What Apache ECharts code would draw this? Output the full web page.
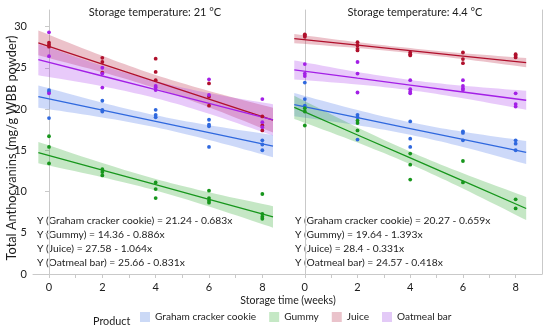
<!DOCTYPE html>
<html><head><meta charset="utf-8">
<script src="https://cdn.jsdelivr.net/npm/echarts@6/dist/echarts.min.js"></script>
<style>html,body{margin:0;padding:0;background:#fff}#c{width:550px;height:332px}</style>
</head><body><div id="c"></div>
<script>
// ---------- data ----------
const PRODUCTS = ['Graham cracker cookie', 'Gummy', 'Juice', 'Oatmeal bar'];
const PANEL_TITLES = ['Storage temperature: 21 °C', 'Storage temperature: 4.4 °C'];
const X_TICK_LABELS = [0, 2, 4, 6, 8];
const X_TICK_MARKS = [0, 1, 2, 3, 4, 5, 6, 7, 8];
const Y_TICK_LABELS = [0, 5, 10, 15, 20, 25, 30];
const X_FIT = [-0.4, 2, 4, 6, 8.4];

// 21 °C observations [week, value]
const P21_GRAHAM = [[0,22.3],[0,22.1],[0,18.9],[2,21.0],[2,19.9],[2,19.7],[4,19.9],[4,19.3],[4,19.0],[6,18.7],[6,18.1],[6,17.9],[6,15.4],[8,16.2],[8,15.7],[8,15.0]];
const P21_GUMMY  = [[0,16.7],[0,15.4],[0,13.4],[2,12.7],[2,12.35],[2,11.95],[4,11.1],[4,10.3],[4,9.2],[6,10.1],[6,9.2],[6,8.9],[6,8.65],[8,9.7],[8,7.3],[8,6.95],[8,6.7]];
const P21_JUICE  = [[0,28.05],[0,27.8],[0,27.55],[2,26.2],[2,25.7],[2,24.4],[4,26.1],[4,24.5],[4,23.5],[6,23.1],[6,21.5],[6,20.4],[8,19.1],[8,18.0],[8,17.4]];
const P21_OAT    = [[0,29.3],[0,26.4],[0,21.9],[2,25.0],[2,24.3],[2,22.6],[4,22.8],[4,22.6],[4,22.3],[6,23.6],[6,21.7],[8,21.2],[8,18.4],[8,17.8]];
// 4.4 °C observations
const P44_GRAHAM = [[0,23.2],[0,21.2],[0,20.4],[2,19.3],[2,19.0],[2,16.3],[4,18.5],[4,16.4],[4,15.4],[6,17.3],[6,17.1],[6,16.2],[8,16.2],[8,15.8],[8,15.0]];
const P44_GUMMY  = [[0,20.1],[0,19.7],[0,18.0],[2,18.6],[2,18.3],[2,17.4],[4,14.6],[4,13.25],[4,11.45],[6,13.7],[6,11.1],[8,9.05],[8,7.95]];
const P44_JUICE  = [[0,29.05],[0,28.9],[0,28.75],[2,28.1],[2,27.7],[2,27.3],[2,27.1],[4,26.85],[4,26.65],[4,26.5],[6,26.85],[6,26.05],[6,25.55],[8,26.65],[8,26.45],[8,26.25]];
const P44_OAT    = [[0,25.45],[0,24.3],[0,24.0],[2,25.7],[2,24.3],[2,22.0],[4,23.5],[4,22.4],[4,22.1],[4,21.9],[6,23.5],[6,22.8],[6,22.5],[6,22.3],[8,21.9],[8,20.6],[8,20.3]];

// fitted line values at X_FIT
const FIT21_GRAHAM = [21.51, 19.87, 18.51, 17.14, 15.50];
const FIT21_GUMMY  = [14.71, 12.59, 10.82, 9.04, 6.92];
const FIT21_JUICE  = [28.01, 25.45, 23.32, 21.20, 18.64];
const FIT21_OAT    = [25.99, 24.00, 22.34, 20.67, 18.68];
const FIT44_GRAHAM = [20.53, 18.95, 17.63, 16.32, 14.73];
const FIT44_GUMMY  = [20.20, 16.85, 14.07, 11.28, 7.94];
const FIT44_JUICE  = [28.53, 27.74, 27.08, 26.41, 25.62];
const FIT44_OAT    = [24.74, 23.73, 22.90, 22.06, 21.06];

// confidence band half widths at X_FIT
const HW21_GRAHAM = [1.35, 0.89, 0.73, 0.89, 1.35];
const HW21_GUMMY  = [1.3, 0.86, 0.70, 0.86, 1.3];
const HW21_JUICE  = [1.5, 0.99, 0.81, 0.99, 1.5];
const HW21_OAT    = [1.9, 1.25, 1.03, 1.25, 1.9];
const HW44_GRAHAM = [1.4, 0.92, 0.76, 0.92, 1.4];
const HW44_GUMMY  = [1.4, 0.92, 0.76, 0.92, 1.4];
const HW44_JUICE  = [0.55, 0.36, 0.30, 0.36, 0.55];
const HW44_OAT    = [1.15, 0.76, 0.62, 0.76, 1.15];

const EQ21 = ['Y (Graham cracker cookie) = 21.24 - 0.683x', 'Y (Gummy) = 14.36 - 0.886x', 'Y (Juice) = 27.58 - 1.064x', 'Y (Oatmeal bar) = 25.66 - 0.831x'];
const EQ44 = ['Y (Graham cracker cookie) = 20.27 - 0.659x', 'Y (Gummy) = 19.64 - 1.393x', 'Y (Juice) = 28.4 - 0.331x', 'Y (Oatmeal bar) = 24.57 - 0.418x'];

// ---------- style ----------
const LINE_COLORS = ['#2f68de', '#17961c', '#b0102c', '#a31fe6'];
const BAND_COLORS = ['rgba(60,110,230,0.26)', 'rgba(40,165,40,0.27)', 'rgba(185,35,65,0.28)', 'rgba(165,45,235,0.25)'];
const SWATCH_COLORS = ['#cbd9f6', '#c5e8c5', '#eac3cb', '#e3caf7'];
const FONT = 'Lato, "Open Sans", sans-serif';
const TXT = '#1c1c1c';
const AX = '#c9c9c9';

const panels = [
  {pts: [P21_GRAHAM, P21_GUMMY, P21_JUICE, P21_OAT], fit: [FIT21_GRAHAM, FIT21_GUMMY, FIT21_JUICE, FIT21_OAT], hw: [HW21_GRAHAM, HW21_GUMMY, HW21_JUICE, HW21_OAT]},
  {pts: [P44_GRAHAM, P44_GUMMY, P44_JUICE, P44_OAT], fit: [FIT44_GRAHAM, FIT44_GUMMY, FIT44_JUICE, FIT44_OAT], hw: [HW44_GRAHAM, HW44_GUMMY, HW44_JUICE, HW44_OAT]}
];

// Catmull-Rom smoothing in pixel space (rendering only)
function smoothPts(pts, n) {
  const out = [];
  for (let i = 0; i < pts.length - 1; i++) {
    const p0 = pts[i - 1] || pts[i], p1 = pts[i], p2 = pts[i + 1], p3 = pts[i + 2] || pts[i + 1];
    for (let s = 0; s < n; s++) {
      const t = s / n, t2 = t * t, t3 = t2 * t;
      out.push([0, 1].map(d => 0.5 * ((2 * p1[d]) + (-p0[d] + p2[d]) * t + (2 * p0[d] - 5 * p1[d] + 4 * p2[d] - p3[d]) * t2 + (-p0[d] + 3 * p1[d] - 3 * p2[d] + p3[d]) * t3)));
    }
  }
  out.push(pts[pts.length - 1]);
  return out;
}

const series = [];
panels.forEach((pn, p) => {
  [0, 1, 2, 3].forEach(k => {
    const fit = pn.fit[k], hw = pn.hw[k];
    series.push({type: 'custom', name: PRODUCTS[k], coordinateSystem: 'cartesian2d', xAxisIndex: p, yAxisIndex: p, silent: true, z: 1,
      data: [[X_FIT[2], fit[2]]],
      renderItem: (params, api) => {
        const up = X_FIT.map((x, i) => api.coord([x, fit[i] + hw[i]]));
        const lo = X_FIT.map((x, i) => api.coord([x, fit[i] - hw[i]]));
        const poly = smoothPts(up, 10).concat(smoothPts(lo, 10).reverse());
        return {type: 'polygon', shape: {points: poly}, style: {fill: BAND_COLORS[k]}};
      }});
  });
  [0, 1, 2, 3].forEach(k => {
    series.push({type: 'line', name: PRODUCTS[k], xAxisIndex: p, yAxisIndex: p, silent: true, symbol: 'none',
      lineStyle: {color: LINE_COLORS[k], width: 1.3}, itemStyle: {color: LINE_COLORS[k]}, data: X_FIT.map((x, i) => [x, pn.fit[k][i]]), z: 3});
  });
  [0, 1, 2, 3].forEach(k => {
    series.push({type: 'scatter', name: PRODUCTS[k], xAxisIndex: p, yAxisIndex: p, silent: true, symbolSize: 3.8,
      itemStyle: {color: LINE_COLORS[k], opacity: 1}, data: pn.pts[k], z: 4});
  });
});

function xAxis(g) {
  return {type: 'value', gridIndex: g, min: -0.6, max: 9,
    axisLine: {show: true, lineStyle: {color: AX}},
    axisTick: {show: true, customValues: X_TICK_MARKS, length: 4, lineStyle: {color: AX}},
    axisLabel: {customValues: X_TICK_LABELS, color: TXT, fontSize: 11, fontFamily: FONT, margin: 8},
    splitLine: {show: false}};
}

const graphics = [];
const titleX = [155, 415];
PANEL_TITLES.forEach((t, i) => graphics.push({type: 'text', x: titleX[i], y: 12, style: {text: t, fill: TXT, font: '11px ' + FONT, textAlign: 'center', textVerticalAlign: 'middle'}}));
[EQ21, EQ44].forEach((arr, p) => arr.forEach((t, i) => graphics.push({type: 'text', x: p ? 295 : 37, y: 221 + i * 14,
  style: {text: t, fill: TXT, font: '10.3px ' + FONT, textVerticalAlign: 'middle'}})));
graphics.push({type: 'text', x: 12, y: 148, rotation: Math.PI / 2,
  style: {text: 'Total Anthocyanins (mg/g WBB powder)', fill: TXT, font: '12.8px ' + FONT, textAlign: 'center', textVerticalAlign: 'middle'}});
graphics.push({type: 'text', x: 288, y: 301,
  style: {text: 'Storage time (weeks)', fill: TXT, font: '10.5px ' + FONT, textAlign: 'center', textVerticalAlign: 'middle'}});
graphics.push({type: 'text', x: 93, y: 322,
  style: {text: 'Product', fill: TXT, font: '10.8px ' + FONT, textVerticalAlign: 'middle'}});

const chart = echarts.init(document.getElementById('c'), null, {renderer: 'canvas'});
chart.setOption({
  animation: false,
  backgroundColor: '#fff',
  grid: [
    {left: 33, right: 261, top: 10, bottom: 58},
    {left: 289, right: 8, top: 10, bottom: 58}
  ],
  xAxis: [xAxis(0), xAxis(1)],
  yAxis: [
    {type: 'value', gridIndex: 0, min: 0, max: 32,
      axisLine: {show: true, lineStyle: {color: AX}},
      axisTick: {show: true, customValues: Y_TICK_LABELS, length: 4, lineStyle: {color: AX}},
      axisLabel: {customValues: Y_TICK_LABELS, color: TXT, fontSize: 11, fontFamily: FONT, margin: 6},
      splitLine: {show: false}},
    {type: 'value', gridIndex: 1, min: 0, max: 32,
      axisLine: {show: true, lineStyle: {color: AX}}, axisTick: {show: false}, axisLabel: {show: false}, splitLine: {show: false}},
    {type: 'value', gridIndex: 1, min: 0, max: 32, position: 'right',
      axisLine: {show: true, lineStyle: {color: AX}}, axisTick: {show: false}, axisLabel: {show: false}, splitLine: {show: false}}
  ],
  legend: {
    data: PRODUCTS.map((n, k) => ({name: n, icon: 'rect', itemStyle: {color: SWATCH_COLORS[k], opacity: 1}})),
    left: 140, top: 312, padding: 0, itemWidth: 10, itemHeight: 10, itemGap: 13, selectedMode: false,
    textStyle: {color: TXT, fontSize: 10.1, fontFamily: FONT}
  },
  graphic: graphics,
  series: series
});
</script></body></html>
